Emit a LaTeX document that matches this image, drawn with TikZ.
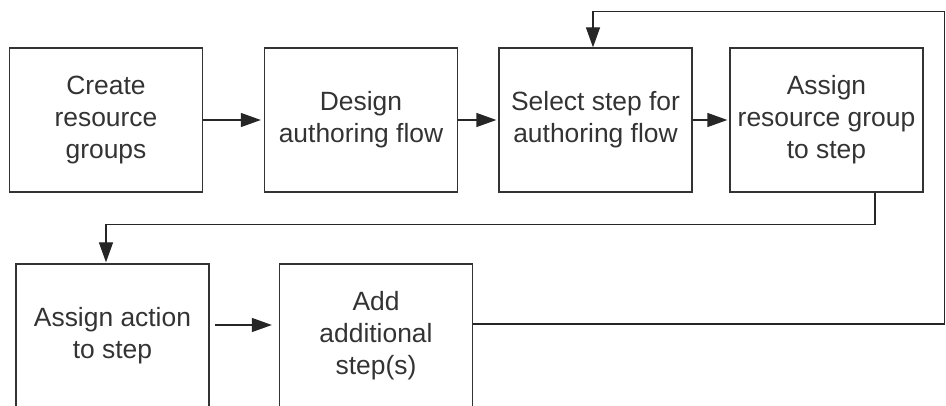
\documentclass[tikz,border=0pt]{standalone}
\usepackage{fontspec}
\setmainfont{Liberation Sans}
\usetikzlibrary{arrows.meta,calc}
\begin{document}
\begin{tikzpicture}[x=1pt,y=-1pt,
  box/.style={draw=black!80, line width=1.3pt, minimum width=193pt, minimum height=144pt, inner sep=0pt, align=center, text=black!80, font=\fontsize{26.4pt}{32pt}\selectfont},
  link/.style={draw=black!85, line width=1.3pt, -{Triangle[length=20pt,width=14pt]}},
  wire/.style={draw=black!85, line width=1.3pt}]
\useasboundingbox (0,0) rectangle (946,406);
\node[box] (b1) at (106,120) {Create\\resource\\groups};
\node[box] (b2) at (361,120) {Design\\authoring flow};
\node[box] (b3) at (595.5,120) {Select step for\\authoring flow};
\node[box] (b4) at (826.5,120) {Assign\\resource group\\to step};
\node[box] (b5) at (112.5,336) {Assign action\\to step};
\node[box] (b6) at (376,336) {Add\\additional\\step(s)};
\draw[link] (b1.east) -- ($(b2.west)+(-3,0)$);
\draw[link] (b2.east) -- ($(b3.west)+(-2,0)$);
\draw[link] (b3.east) -- ($(b4.west)+(-2,0)$);
\draw[link] ($(b5.east)+(5,-11)$) -- ($(b6.west)+(-7,-11)$);
\coordinate (loopR) at (944.5,324);
\draw[link] (b6.east |- loopR) -- (loopR) |- ($(b3.north)+(-2.5,-36)$) -- ($(b3.north)+(-2.5,0)$);
\draw[link] ($(b4.south)+(48.5,0)$) -- ++(0,32) -| ($(b5.north)+(-6.5,-1)$);
\end{tikzpicture}
\end{document}
